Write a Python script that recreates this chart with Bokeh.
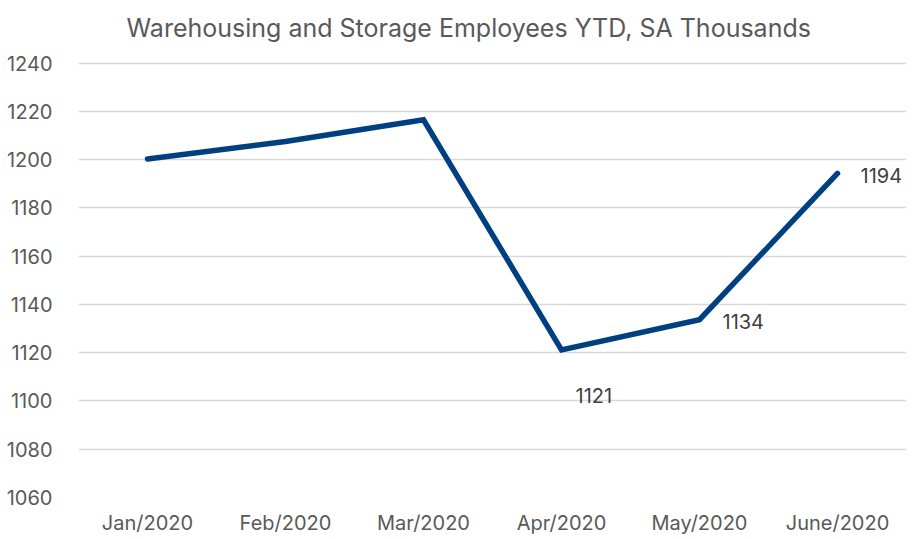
from bokeh.plotting import figure
from bokeh.models import Range1d, FactorRange, FixedTicker, ColumnDataSource
from bokeh.core.properties import value
from bokeh.embed import file_html
from bokeh.resources import INLINE

months = ["Jan/2020", "Feb/2020", "Mar/2020", "Apr/2020", "May/2020", "June/2020"]
employees = [1200.3, 1207.5, 1216.5, 1121.2, 1133.7, 1194.3]
label_months = ["Apr/2020", "May/2020", "June/2020"]
label_values = [1121.2, 1133.7, 1194.3]
label_texts = ["1121", "1134", "1194"]
label_dx = [14, 23, 23]
label_dy = [46, 2, 2]
y_ticks = [1060, 1080, 1100, 1120, 1140, 1160, 1180, 1200, 1220, 1240]

FONT = "Inter"

p = figure(
    x_range=FactorRange(*months, range_padding=0),
    y_range=Range1d(1060, 1244),
    width=906, height=537,
    output_backend="svg", toolbar_location=None,
    title="Warehousing and Storage Employees YTD, SA Thousands",
    min_border_left=78, min_border_right=0, min_border_top=0, min_border_bottom=40,
)
p.outline_line_color = None
p.title.align = "left"
p.title.text_font = FONT
p.title.text_font_size = "25px"
p.title.text_font_style = "normal"
p.title.text_color = "#595959"
p.title.offset = 48
p.title.standoff = 21

p.xgrid.grid_line_color = None
p.ygrid.grid_line_color = "#d9d9d9"
p.ygrid.grid_line_width = 1.5

p.yaxis.ticker = FixedTicker(ticks=y_ticks)
for ax in (p.xaxis, p.yaxis):
    ax.axis_line_color = None
    ax.major_tick_line_color = None
    ax.minor_tick_line_color = None
    ax.major_label_text_font = FONT
    ax.major_label_text_font_size = "20px"
    ax.major_label_text_color = "#595959"
p.yaxis.major_label_standoff = 20
p.xaxis.major_label_standoff = 7

p.line(months, employees, line_color="#004080", line_width=5.5,
       line_cap="round", line_join="miter")

src = ColumnDataSource(dict(x=label_months, y=label_values, t=label_texts,
                            dx=label_dx, dy=label_dy))
p.text(x="x", y="y", text="t", source=src, x_offset="dx", y_offset="dy",
       text_align="left", text_baseline="middle",
       text_font=value(FONT), text_font_size="20px", text_color="#404040")

open("out.html", "w").write(file_html(p, INLINE))
